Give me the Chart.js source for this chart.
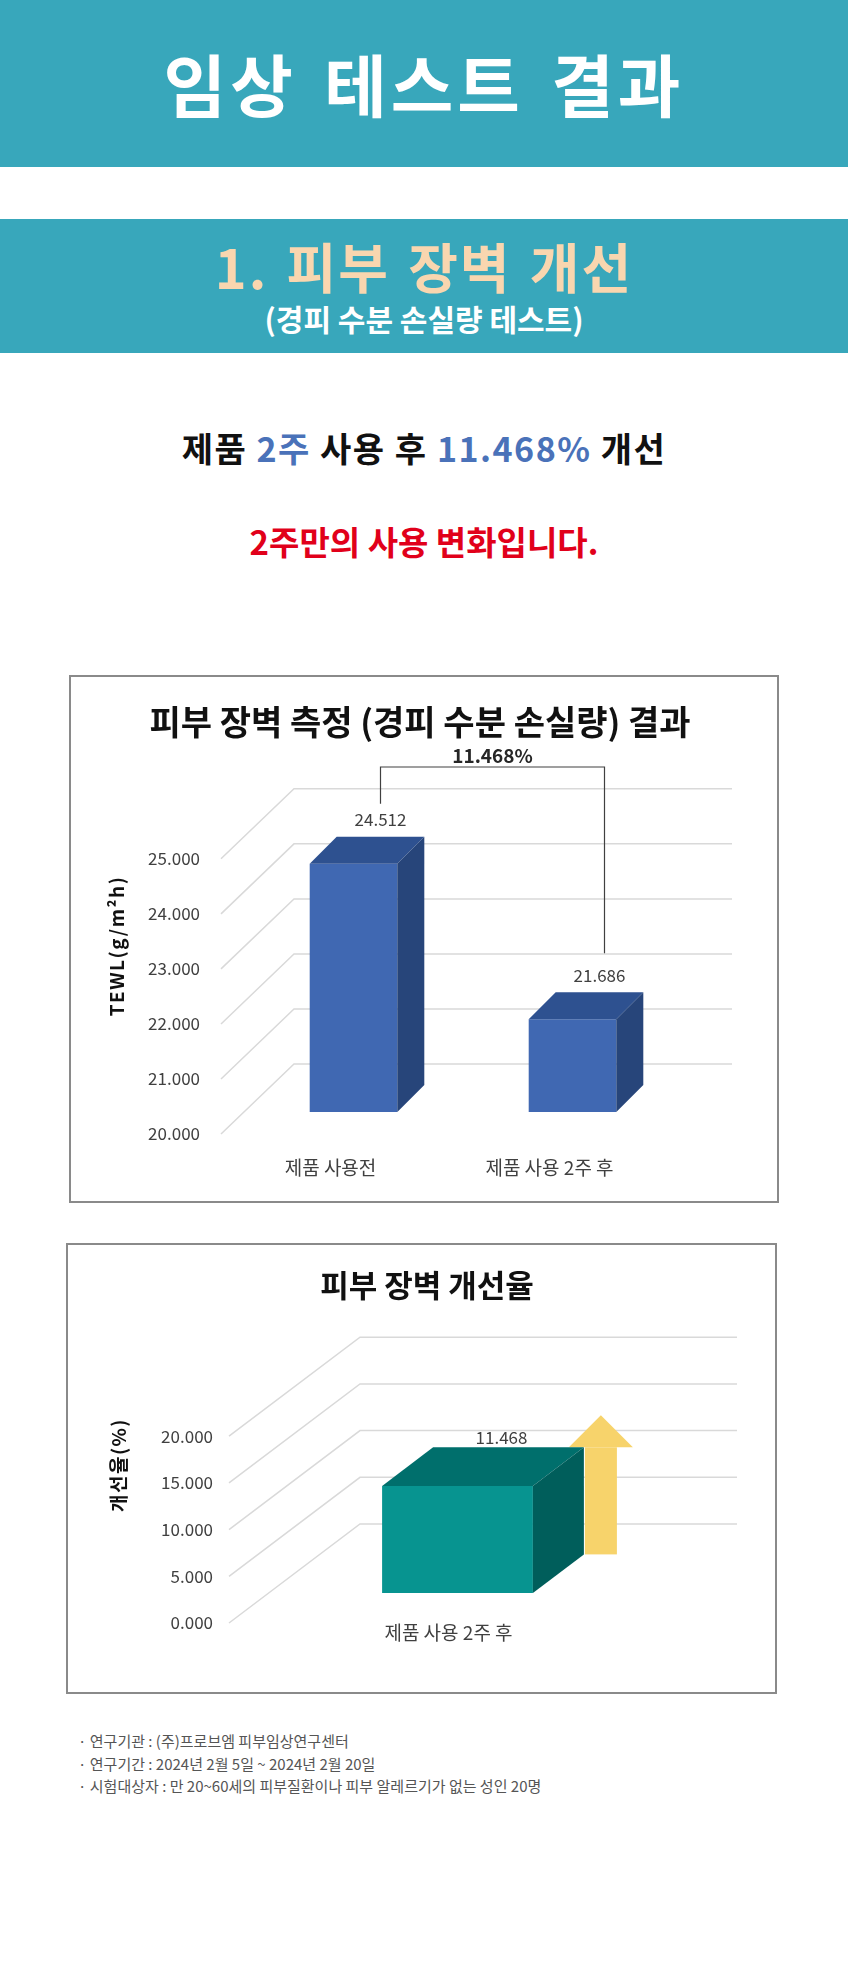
<!doctype html>
<html>
<head>
    <title>임상 테스트 결과</title>
    <meta charset="utf-8">
    <style>
        html, body {
            margin: 0;
            padding: 0;
            background: #fff;
        }

        body {
            position: relative;
            width: 848px;
            height: 1964px;
            overflow: hidden;
            font-family: "Noto Sans CJK KR", "Noto Sans", sans-serif;
        }

        .band {
            position: absolute;
            left: 0;
            width: 848px;
            background: #38a7bb;
        }

        .line {
            position: absolute;
            left: 0;
            width: 848px;
            text-align: center;
            white-space: nowrap;
            font-weight: 700;
        }

        .line--title {
            top: 41px;
            height: 84px;
            line-height: 84px;
            font-size: 68px;
            letter-spacing: 4px;
            word-spacing: 8px;
            color: #fff;
        }

        .line--section {
            top: 234px;
            height: 64px;
            line-height: 64px;
            font-size: 54px;
            letter-spacing: 2px;
            word-spacing: 4px;
            color: #f9d6af;
        }

        .line--sub {
            top: 299px;
            height: 38px;
            line-height: 38px;
            font-size: 30px;
            color: #fff;
        }

        .line--summary {
            top: 427px;
            height: 42px;
            line-height: 42px;
            font-size: 34px;
            letter-spacing: 1.5px;
            color: #111;
        }

        .line--summary span {
            color: #4a72b9;
        }

        .line--note {
            top: 520px;
            height: 42px;
            line-height: 42px;
            font-size: 33px;
            color: #e1001a;
        }

        .box {
            position: absolute;
            box-sizing: border-box;
            border: 2px solid #8a8a8a;
            background: #fff;
        }

        .box canvas {
            position: absolute;
            left: -2px;
            top: -2px;
        }

        .notes {
            position: absolute;
            left: 78px;
            top: 1730px;
            margin: 0;
            padding: 0;
            list-style: none;
            font-size: 15px;
            line-height: 22.5px;
            color: #555;
        }
    </style>
    <script src="https://cdn.jsdelivr.net/npm/chart.js@4.4.1/dist/chart.umd.min.js"></script>
</head>
<body>
<div class="band" style="top: 0; height: 167px;"></div>
<div class="line line--title">임상 테스트 결과</div>

<div class="band" style="top: 219px; height: 134px;"></div>
<div class="line line--section">1. 피부 장벽 개선</div>
<div class="line line--sub">(경피 수분 손실량 테스트)</div>

<div class="line line--summary">제품 <span>2주</span> 사용 후 <span>11.468%</span> 개선</div>
<div class="line line--note">2주만의 사용 변화입니다.</div>

<div class="box" style="left: 69px; top: 675px; width: 710px; height: 528px;">
    <canvas id="tewl" width="710" height="528"></canvas>
</div>

<div class="box" style="left: 66px; top: 1243px; width: 711px; height: 451px;">
    <canvas id="rate" width="711" height="451"></canvas>
</div>

<ul class="notes">
    <li>· 연구기관 : (주)프로브엠 피부임상연구센터</li>
    <li>· 연구기간 : 2024년 2월 5일 ~ 2024년 2월 20일</li>
    <li>· 시험대상자 : 만 20~60세의 피부질환이나 피부 알레르기가 없는 성인 20명</li>
</ul>

<script>
    "use strict";

    // chart 1: TEWL before / after
    const tewlLabels = ["제품 사용전", "제품 사용 2주 후"];
    const tewlValues = [24.512, 21.686];
    const tewlTicks = [20, 21, 22, 23, 24, 25];

    // chart 2: improvement rate
    const rateLabels = ["제품 사용 2주 후"];
    const rateValues = [11.468];
    const rateTicks = [0, 5, 10, 15, 20];

    Chart.defaults.font.family = '"Noto Sans CJK KR", "Noto Sans", sans-serif';
    Chart.defaults.color = "#404040";

    function poly(ctx, pts) {
        ctx.beginPath();
        ctx.moveTo(pts[0][0], pts[0][1]);
        for (let i = 1; i < pts.length; i++) {
            ctx.lineTo(pts[i][0], pts[i][1]);
        }
        ctx.closePath();
        ctx.fill();
    }

    // fake-3d walls, bar faces and labels
    const cubePlugin = {
        id: "cube",
        beforeDatasetsDraw(chart, args, o) {
            const ctx = chart.ctx;
            const a = chart.chartArea;
            const y = chart.scales.y;

            ctx.save();
            ctx.strokeStyle = "#d9d9d9";
            ctx.lineWidth = 1.5;
            y.ticks.forEach(function (t) {
                const py = y.getPixelForValue(t.value);
                ctx.beginPath();
                ctx.moveTo(a.left + o.front[0], py + o.front[1]);
                ctx.lineTo(a.left + o.wall[0], py + o.wall[1]);
                ctx.lineTo(a.right + o.wall[0], py + o.wall[1]);
                ctx.stroke();
            });

            if (o.arrow) {
                const bar = chart.getDatasetMeta(0).data[0];
                const x0 = bar.x + bar.width / 2 + o.depth[0] + 1;
                const w = o.arrow.width;
                const headY = bar.y + o.depth[1];
                const bottom = Math.min(bar.base, a.bottom) + o.depth[1];
                ctx.fillStyle = o.arrow.color;
                ctx.fillRect(x0, headY, w, bottom - headY);
                poly(ctx, [
                    [x0 - w / 2, headY],
                    [x0 + w / 2, headY - o.arrow.head],
                    [x0 + w * 1.5, headY],
                ]);
            }
            ctx.restore();
        },
        afterDatasetsDraw(chart, args, o) {
            const ctx = chart.ctx;
            const a = chart.chartArea;
            const dx = o.depth[0];
            const dy = o.depth[1];
            const data = chart.data.datasets[0].data;
            const labelPos = [];

            ctx.save();
            chart.getDatasetMeta(0).data.forEach(function (bar, i) {
                const l = bar.x - bar.width / 2;
                const r = bar.x + bar.width / 2;
                const base = Math.min(bar.base, a.bottom);
                ctx.fillStyle = o.top;
                poly(ctx, [[l, bar.y], [r, bar.y], [r + dx, bar.y + dy], [l + dx, bar.y + dy]]);
                ctx.fillStyle = o.side;
                poly(ctx, [[r, bar.y], [r + dx, bar.y + dy], [r + dx, base + dy], [r, base]]);

                const lx = bar.x + o.label[0];
                const ly = bar.y + dy + o.label[1];
                ctx.fillStyle = "#404040";
                ctx.font = "17px " + Chart.defaults.font.family;
                ctx.textAlign = "center";
                ctx.textBaseline = "middle";
                ctx.fillText(data[i].toFixed(3), lx, ly);
                labelPos.push([lx, ly]);
            });

            if (o.bracket) {
                const b = o.bracket;
                const p = labelPos[0];
                const q = labelPos[1];
                ctx.strokeStyle = "#404040";
                ctx.lineWidth = 1.2;
                ctx.beginPath();
                ctx.moveTo(p[0], p[1] - 16);
                ctx.lineTo(p[0], b.y);
                ctx.lineTo(q[0] + 5, b.y);
                ctx.lineTo(q[0] + 5, q[1] - 22);
                ctx.stroke();
                ctx.fillStyle = "#262626";
                ctx.font = "bold 19px " + Chart.defaults.font.family;
                ctx.fillText(b.text, (p[0] + q[0] + 5) / 2, b.y - 11);
            }

            // y axis title, placed like the original (not centred on the plot)
            ctx.translate(o.yTitle.x, o.yTitle.y);
            ctx.rotate(-Math.PI / 2);
            ctx.fillStyle = "#111";
            ctx.font = "bold " + o.yTitle.size + "px " + Chart.defaults.font.family;
            ctx.letterSpacing = o.yTitle.spacing + "px";
            ctx.textAlign = "center";
            ctx.textBaseline = "middle";
            ctx.fillText(o.yTitle.text, 0, 0);
            ctx.restore();
        },
    };

    function fmt(v) {
        return Number(v).toFixed(3);
    }

    // empty right-hand axis, only there to reserve the space right of the plot
    function spacer(width) {
        return {
            type: "linear",
            position: "right",
            grid: {display: false, drawTicks: false},
            border: {display: false},
            ticks: {display: false},
            afterFit: function (s) { s.width = width; },
        };
    }

    new Chart(document.getElementById("tewl"), {
        type: "bar",
        data: {
            labels: tewlLabels,
            datasets: [{
                data: tewlValues,
                backgroundColor: "#4068b2",
                borderWidth: 0,
                barPercentage: 0.4,
                categoryPercentage: 1,
            }],
        },
        options: {
            responsive: false,
            animation: false,
            layout: {padding: {left: 0, right: 8, top: 27, bottom: 21}},
            scales: {
                x: {
                    grid: {display: false, drawTicks: false},
                    border: {display: false},
                    ticks: {padding: 44, labelOffset: -23, font: {size: 19}, color: "#404040"},
                    afterFit: function (s) { s.height = 70; },
                },
                y: {
                    min: tewlTicks[0],
                    max: tewlTicks[tewlTicks.length - 1],
                    grid: {display: false, drawTicks: false},
                    border: {display: false},
                    ticks: {
                        stepSize: tewlTicks[1] - tewlTicks[0],
                        padding: 44,
                        labelOffset: 22,
                        font: {size: 17},
                        color: "#404040",
                        callback: fmt,
                    },
                    afterFit: function (s) { s.width = 175; },
                },
                right: spacer(89),
            },
            plugins: {
                legend: {display: false},
                tooltip: {enabled: false},
                title: {
                    display: true,
                    text: "피부 장벽 측정 (경피 수분 손실량) 결과",
                    color: "#111",
                    font: {size: 34, weight: "bold"},
                    padding: {top: 0, bottom: 94},
                },
                cube: {
                    depth: [27, -27],
                    front: [-23, 22],
                    wall: [50, -48],
                    top: "#2e5190",
                    side: "#27457a",
                    label: [27, -17],
                    bracket: {y: 92, text: rateValues[0].toFixed(3) + "%"},
                    yTitle: {text: "TEWL(g/m²h)", x: 48, y: 271, size: 19, spacing: 1.5},
                },
            },
        },
        plugins: [cubePlugin],
    });

    new Chart(document.getElementById("rate"), {
        type: "bar",
        data: {
            labels: rateLabels,
            datasets: [{
                data: rateValues,
                backgroundColor: "#079490",
                borderWidth: 0,
                barPercentage: 0.4,
                categoryPercentage: 1,
            }],
        },
        options: {
            responsive: false,
            animation: false,
            layout: {padding: {left: 11, right: 0, top: 24, bottom: 46}},
            scales: {
                x: {
                    grid: {display: false, drawTicks: false},
                    border: {display: false},
                    ticks: {padding: 28, labelOffset: -9, font: {size: 19}, color: "#404040"},
                    afterFit: function (s) { s.height = 55; },
                },
                y: {
                    min: rateTicks[0],
                    max: rateTicks[rateTicks.length - 1],
                    grid: {display: false, drawTicks: false},
                    border: {display: false},
                    ticks: {
                        stepSize: rateTicks[1] - rateTicks[0],
                        padding: 56,
                        labelOffset: 30,
                        font: {size: 17},
                        color: "#404040",
                        callback: fmt,
                    },
                    afterFit: function (s) { s.width = 192; },
                },
                right: spacer(131),
            },
            plugins: {
                legend: {display: false},
                tooltip: {enabled: false},
                title: {
                    display: true,
                    text: "피부 장벽 개선율",
                    color: "#111",
                    font: {size: 31, weight: "bold"},
                    padding: {top: 0, bottom: 102},
                },
                cube: {
                    depth: [51, -38.6],
                    front: [-40, 30],
                    wall: [91, -69],
                    top: "#006f6c",
                    side: "#005e5b",
                    label: [44, -10],
                    arrow: {color: "#f7d36b", width: 32, head: 32},
                    yTitle: {text: "개선율(%)", x: 53, y: 222, size: 19, spacing: 1.5},
                },
            },
        },
        plugins: [cubePlugin],
    });
</script>
</body>
</html>
